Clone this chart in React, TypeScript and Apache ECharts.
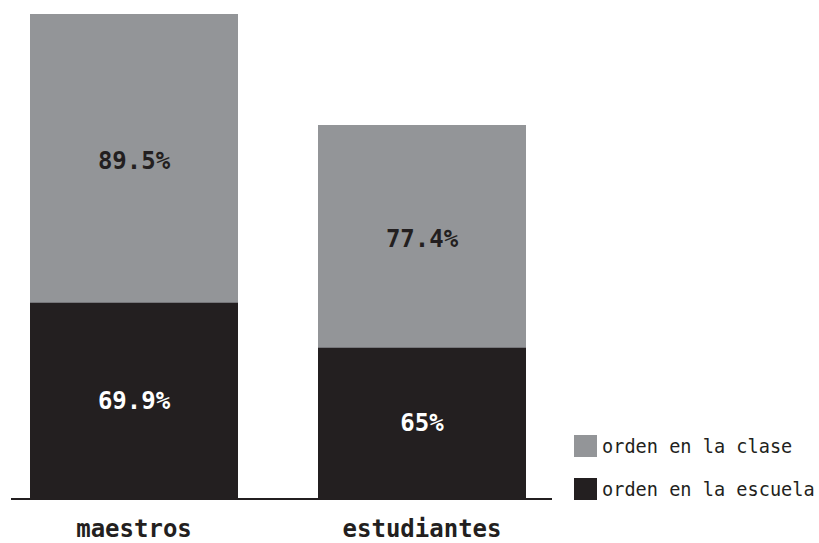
import React, { useEffect, useRef } from "react";
import * as echarts from "echarts";

const categories = ["maestros", "estudiantes"];
const seriesNames = ["orden en la clase", "orden en la escuela"];
const claseValues = [89.5, 77.4];
const escuelaValues = [69.9, 65];

const GRAY = "#939598";
const DARK = "#231f20";
const FONT = "'DejaVu Sans Mono', 'Liberation Mono', monospace";

export default function App() {
  const ref = useRef<HTMLDivElement>(null);

  useEffect(() => {
    if (!ref.current) return;
    const chart = echarts.init(ref.current, undefined, { renderer: "svg" });
    const option: any = {
      animation: false,
      backgroundColor: "#ffffff",
      grid: {
        left: -10,
        width: 576,
        top: 14,
        bottom: 44,
        containLabel: false,
        outerBoundsMode: "none",
      },
      legend: {
        data: seriesNames,
        orient: "vertical",
        left: 574,
        top: 435,
        padding: 0,
        itemWidth: 23,
        itemHeight: 22,
        itemGap: 21,
        icon: "rect",
        selectedMode: false,
        textStyle: { fontFamily: FONT, fontSize: 18.6, color: DARK },
      },
      xAxis: {
        type: "category",
        data: categories,
        axisLine: { show: false },
        axisTick: { show: false },
        axisLabel: {
          margin: 18,
          fontFamily: FONT,
          fontSize: 24,
          lineHeight: 24,
          fontWeight: "bold",
          color: DARK,
        },
      },
      yAxis: [
        { type: "value", min: 36.6, max: 89.5, show: false },
        { type: "value", min: 48.5, max: 101.4, show: false },
      ],
      series: [
        {
          name: seriesNames[0],
          type: "bar",
          yAxisIndex: 0,
          data: claseValues,
          barWidth: 208,
          barGap: "-100%",
          itemStyle: { color: GRAY },
        },
        {
          name: seriesNames[1],
          type: "bar",
          yAxisIndex: 1,
          data: escuelaValues,
          barWidth: 208,
          barGap: "-100%",
          itemStyle: { color: DARK },
          label: {
            show: true,
            position: "inside",
            formatter: (p: any) => p.value + "%",
            fontFamily: FONT,
            fontSize: 24,
            fontWeight: "bold",
            color: "#ffffff",
          },
        },
      ],
    };
    chart.setOption(option);

    const graphics: any[] = [];
    const baseY = chart.convertToPixel({ yAxisIndex: 0 }, 36.6) as number;
    graphics.push({
      type: "line",
      shape: { x1: 11, y1: baseY, x2: 552, y2: baseY },
      style: { stroke: DARK, lineWidth: 2 },
      z: 0,
    });
    categories.forEach((c, i) => {
      const x = chart.convertToPixel({ xAxisIndex: 0 }, c) as number;
      const yTop = chart.convertToPixel({ yAxisIndex: 0 }, claseValues[i]) as number;
      const yMid = chart.convertToPixel({ yAxisIndex: 1 }, escuelaValues[i]) as number;
      graphics.push({
        type: "text",
        x,
        y: (yTop + yMid) / 2 + 3,
        z: 10,
        style: {
          text: claseValues[i] + "%",
          fontFamily: FONT,
          fontSize: 24,
          fontWeight: "bold",
          fill: DARK,
          align: "center",
          verticalAlign: "middle",
        },
      });
    });
    chart.setOption({ graphic: graphics });

    return () => chart.dispose();
  }, []);

  return (
    <div
      ref={ref}
      style={{ position: "fixed", left: 0, top: 0, width: 819, height: 543 }}
    />
  );
}
